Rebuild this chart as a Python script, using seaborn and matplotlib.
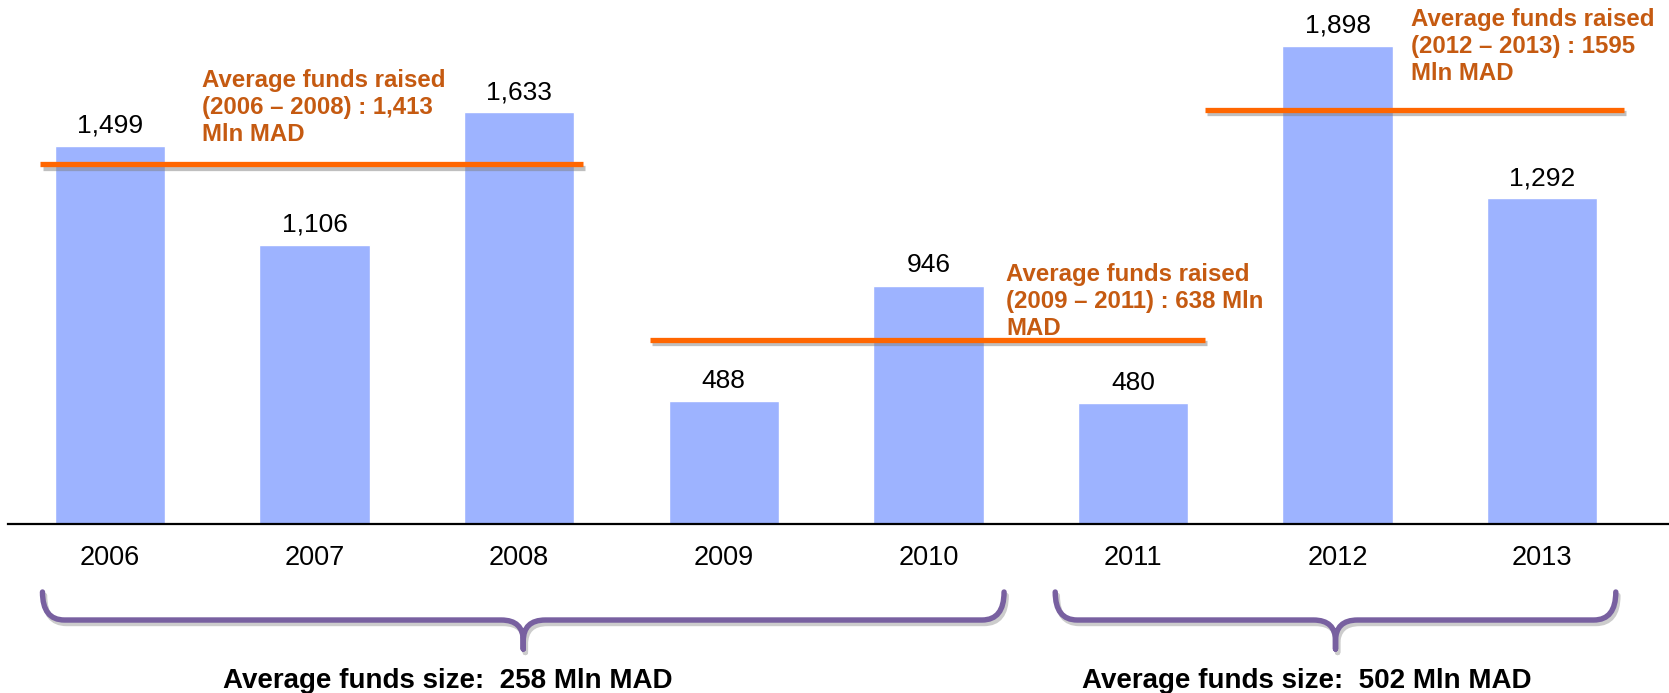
import numpy as np
import matplotlib
matplotlib.use("Agg")
import matplotlib.pyplot as plt
import matplotlib.patheffects as pe
from matplotlib.path import Path
from matplotlib.patches import PathPatch
import seaborn as sns

# Funds raised per year (Mln MAD)
years = ["2006", "2007", "2008", "2009", "2010", "2011", "2012", "2013"]
funds_raised = [1499, 1106, 1633, 488, 946, 480, 1898, 1292]

# Average-funds-raised annotations (line levels)
avg_labels = [
    "Average funds raised\n(2006 – 2008) : 1,413\nMln MAD",
    "Average funds raised\n(2009 – 2011) : 638 Mln\nMAD",
    "Average funds raised\n(2012 – 2013) : 1595\nMln MAD",
]
avg_levels = [1427, 732, 1643]
avg_spans = [(-0.34, 2.31), (2.64, 5.35), (5.35, 7.40)]
avg_text_pos = [(0.45, 1806), (4.38, 1034), (6.36, 2046)]

# Fund size braces under the axis
size_labels = ["Average funds size:  258 Mln MAD", "Average funds size:  502 Mln MAD"]
brace_spans = [(-0.33, 4.37), (4.62, 7.36)]
size_text_x = [1.65, 5.85]

BAR_COLOR = "#9DB3FF"
LINE_COLOR = "#FF6600"
NOTE_COLOR = "#C55A11"
BRACE_COLOR = "#7860A0"

sns.set_style("white")
plt.rcParams["font.family"] = ["Liberation Sans", "DejaVu Sans"]

fig = plt.figure(figsize=(16.69, 6.93), dpi=100)
ax = fig.add_axes([0, 169 / 693, 1, 524 / 693])

sns.barplot(x=years, y=funds_raised, color=BAR_COLOR, saturation=1,
            width=0.54, ax=ax)

ax.set_xlim(-0.5376, 7.620)
ax.set_ylim(0, 2079)
ax.set_xlabel("")
ax.set_ylabel("")
ax.set_yticks([])
ax.tick_params(axis="x", length=0, pad=15, labelsize=19.5, colors="black")

for side in ["left", "top", "right"]:
    ax.spines[side].set_visible(False)
ax.spines["bottom"].set_color("black")
ax.spines["bottom"].set_linewidth(1.6)
ax.spines["bottom"].set_bounds(-0.4985, 7.62)

ax.bar_label(ax.containers[0], labels=[f"{v:,}" for v in funds_raised],
             padding=6, fontsize=19, color="black")

# average lines with a soft shadow
shadow = [pe.SimpleLineShadow(offset=(1.5, -2.5), shadow_color="gray", alpha=0.5),
          pe.Normal()]
for level, (x0, x1) in zip(avg_levels, avg_spans):
    ax.plot([x0, x1], [level, level], color=LINE_COLOR, lw=3.8,
            solid_capstyle="butt", path_effects=shadow, zorder=3)

for text, (tx, ty) in zip(avg_labels, avg_text_pos):
    ax.text(tx, ty, text, color=NOTE_COLOR, fontsize=17.3, fontweight="bold",
            ha="left", va="top", linespacing=1.22)

# braces (pixel measurements converted to data units)
px_x = 204.6
px_y = 0.252


def draw_brace(x0, x1):
    xc = (x0 + x1) / 2
    y_tip = -68 / px_y
    y_bar = -96 / px_y
    y_knee = -117 / px_y
    y_end = -125 / px_y
    r = 22 / px_x
    verts = [
        (x0, y_tip), (x0, y_bar), (x0 + r, y_bar),
        (xc - r, y_bar), (xc, y_bar), (xc, y_knee),
        (xc, y_end), (xc, y_knee),
        (xc, y_bar), (xc + r, y_bar),
        (x1 - r, y_bar), (x1, y_bar), (x1, y_tip),
    ]
    codes = [Path.MOVETO, Path.CURVE3, Path.CURVE3,
             Path.LINETO, Path.CURVE3, Path.CURVE3,
             Path.LINETO, Path.LINETO,
             Path.CURVE3, Path.CURVE3,
             Path.LINETO, Path.CURVE3, Path.CURVE3]
    patch = PathPatch(Path(verts, codes), fill=False, edgecolor=BRACE_COLOR,
                      lw=3.9, capstyle="round", joinstyle="round",
                      clip_on=False,
                      path_effects=[pe.SimpleLineShadow(offset=(1.5, -2.5),
                                                        shadow_color="gray",
                                                        alpha=0.4),
                                    pe.Normal()])
    ax.add_patch(patch)


for (x0, x1) in brace_spans:
    draw_brace(x0, x1)

for text, tx in zip(size_labels, size_text_x):
    ax.text(tx, -164 / px_y, text, fontsize=20, fontweight="bold",
            color="black", ha="center", va="baseline", clip_on=False)

fig.savefig("out.png", dpi=100)
